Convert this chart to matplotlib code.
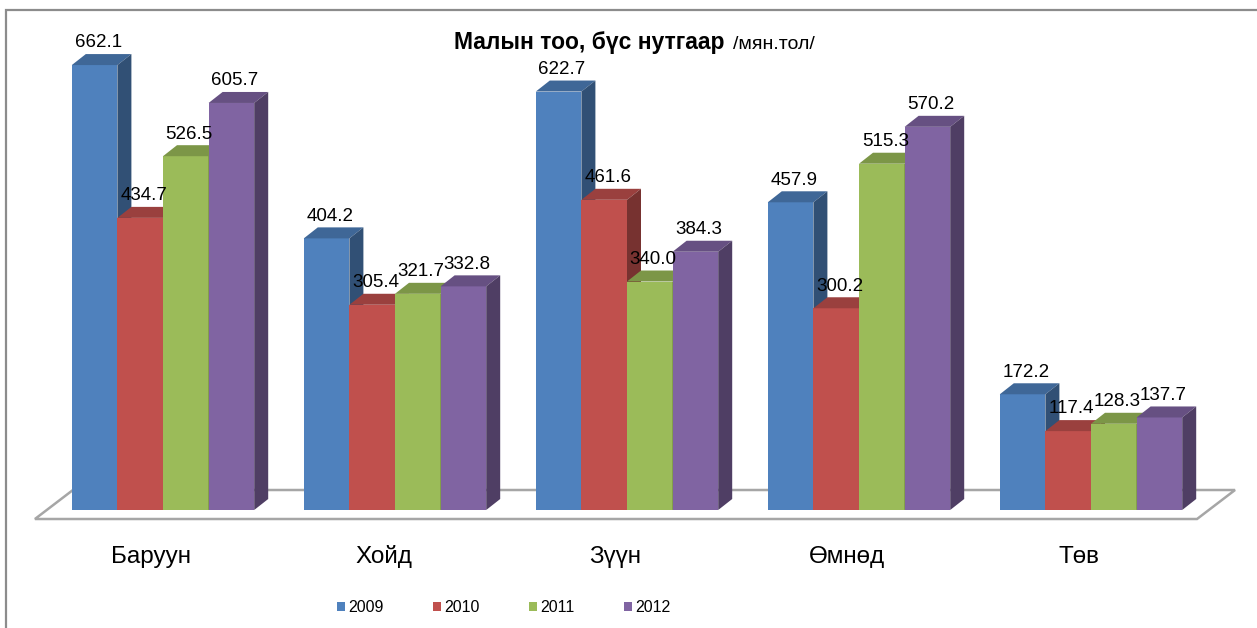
import matplotlib
matplotlib.use('Agg')
import matplotlib.pyplot as plt
from matplotlib.patches import Polygon, Rectangle, Patch
from matplotlib.colors import to_rgb
import numpy as np

plt.rcParams['font.family'] = ['Liberation Sans', 'DejaVu Sans']

# --- Data ---
regions = ['Баруун', 'Хойд', 'Зүүн', 'Өмнөд', 'Төв']
years = ['2009', '2010', '2011', '2012']
v2009 = [662.1, 404.2, 622.7, 457.9, 172.2]
v2010 = [434.7, 305.4, 461.6, 300.2, 117.4]
v2011 = [526.5, 321.7, 340.0, 515.3, 128.3]
v2012 = [605.7, 332.8, 384.3, 570.2, 137.7]
series = [v2009, v2010, v2011, v2012]
colors = ['#4F81BD', '#C0504D', '#9BBB59', '#8064A2']

# --- Layout (pixel-based scales for the pseudo-3D look) ---
W_PX, H_PX = 1257, 628
px_per_group = 232.0
px_per_unit = 0.672
bar_w = 45.6 / px_per_group
depth_x = 14 / px_per_group
depth_y = 11 / px_per_unit

fig = plt.figure(figsize=(W_PX / 100, H_PX / 100), dpi=100)
ax = fig.add_axes([0, 0, 1, 1])
x0 = -163 / px_per_group
ax.set_xlim(x0, x0 + W_PX / px_per_group)
ax.set_ylim(-(H_PX - 510) / px_per_unit, 510 / px_per_unit)
ax.axis('off')


def shade(c, f):
    return tuple(np.array(to_rgb(c)) * f)


# floor plane
n = len(regions)
fl_left, fl_right = -0.552, n - 1 + 0.457
fl_front = -13.4
fl_dx, fl_dy = 38 / px_per_group, 29 / px_per_unit
floor = Polygon([(fl_left, fl_front), (fl_right, fl_front),
                 (fl_right + fl_dx, fl_front + fl_dy),
                 (fl_left + fl_dx, fl_front + fl_dy)],
                closed=True, facecolor='white', edgecolor='#a6a6a6', lw=1.8)
ax.add_patch(floor)

# bars, drawn left to right so neighbours overlap correctly
for g in range(n):
    for i, vals in enumerate(series):
        v = vals[g]
        c = colors[i]
        xl = g - 2 * bar_w + i * bar_w
        xr = xl + bar_w
        front = Polygon([(xl, 0), (xr, 0), (xr, v), (xl, v)],
                        facecolor=c, edgecolor='none')
        top = Polygon([(xl, v), (xr, v), (xr + depth_x, v + depth_y),
                       (xl + depth_x, v + depth_y)],
                      facecolor=shade(c, 0.8), edgecolor='none')
        side = Polygon([(xr, 0), (xr + depth_x, depth_y),
                        (xr + depth_x, v + depth_y), (xr, v)],
                       facecolor=shade(c, 0.62), edgecolor='none')
        for p in (front, top, side):
            ax.add_patch(p)
        ax.text(xl + bar_w / 2 + depth_x * 0.25, v + depth_y + 4,
                f'{v:.1f}', ha='center', va='bottom', fontsize=13.5,
                color='black', zorder=5)

# category labels
for g, name in enumerate(regions):
    ax.text(g - 0.05, -(563 - 510) / px_per_unit, name, ha='center',
            va='baseline', fontsize=17.5, color='black')

# title
ty = 1 - 49 / H_PX
fig.text(725 / W_PX, ty, 'Малын тоо, бүс нутгаар', ha='right', va='baseline',
         fontsize=16.5, fontweight='bold')
fig.text(733 / W_PX, ty, '/мян.тол/', ha='left', va='baseline', fontsize=14)

# legend
handles = [Patch(facecolor=c, edgecolor='none') for c in colors]
fig.legend(handles, years, loc='center', bbox_to_anchor=(0.401, 0.032),
           ncol=4, frameon=False, fontsize=11.5, handlelength=0.5,
           handleheight=0.5, handletextpad=0.2, columnspacing=3.1)

# chart border (runs off the right and bottom of the image)
fig.add_artist(Rectangle((6 / W_PX, -0.2), 1.2, 1.2 - 10 / H_PX,
                         transform=fig.transFigure, fill=False,
                         edgecolor='#8c8c8c', lw=1.6))

fig.savefig('out.png', dpi=100)
